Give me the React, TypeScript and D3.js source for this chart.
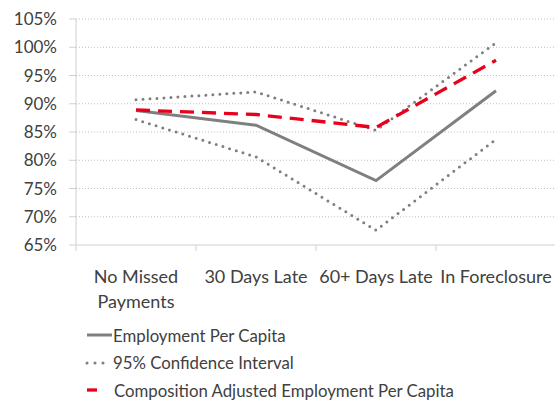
import React from "react";
import * as d3 from "d3";

const categories = ["No Missed Payments", "30 Days Late", "60+ Days Late", "In Foreclosure"];
const categoryLines = [["No Missed", "Payments"], ["30 Days Late"], ["60+ Days Late"], ["In Foreclosure"]];
const employment = [88.8, 86.2, 76.4, 92.3];
const ciUpper = [90.7, 92.1, 85.3, 100.8];
const ciLower = [87.2, 80.6, 67.6, 83.7];
const adjusted = [88.9, 88.1, 85.8, 97.7];
const yTicks = [65, 70, 75, 80, 85, 90, 95, 100, 105];
const legendLabels = ["Employment Per Capita", "95% Confidence Interval", "Composition Adjusted Employment Per Capita"];

const W = 555, H = 400;
const left = 76, right = 556, top = 19, bottom = 245;
const FONT = "Lato, 'Open Sans', sans-serif";

export default function App() {
  const x = d3.scaleBand<string>().domain(categories).range([left, right]).padding(0);
  const y = d3.scaleLinear().domain([65, 105]).range([bottom, top]);
  const cx = (i: number) => (x(categories[i]) as number) + x.bandwidth() / 2;
  const line = d3.line<number>().x((_, i) => cx(i)).y((d) => y(d));

  return (
    <svg width={W} height={H} style={{ position: "absolute", left: 0, top: 0, background: "#fff" }}>
      {yTicks.map((t) => (
        <g key={t}>
          {t !== 65 && (
            <line x1={left} x2={W} y1={y(t)} y2={y(t)} stroke="#bfbfbf" strokeWidth={1} strokeDasharray="1 2" />
          )}
          <line x1={left - 7} x2={left} y1={y(t)} y2={y(t)} stroke="#d0d0d0" />
          <text x={57} y={y(t)} dy="0.36em" textAnchor="end" fontFamily={FONT} fontSize={17} fill="#404040">
            {t}%
          </text>
        </g>
      ))}
      <line x1={left} x2={left} y1={top} y2={bottom} stroke="#d0d0d0" />
      <line x1={left} x2={W} y1={bottom} y2={bottom} stroke="#d0d0d0" />
      {categories.map((c) => (
        <line key={c} x1={x(c) as number} x2={x(c) as number} y1={bottom} y2={bottom + 6} stroke="#d0d0d0" />
      ))}
      {categoryLines.map((lines, i) =>
        lines.map((l, j) => (
          <text key={i + "-" + j} x={cx(i)} y={282.5 + j * 25} textAnchor="middle" fontFamily={FONT} fontSize={18} fill="#404040">
            {l}
          </text>
        ))
      )}
      <path d={line(ciUpper) || ""} fill="none" stroke="#7f7f7f" strokeWidth={3} strokeDasharray="0 7" strokeLinecap="round" />
      <path d={line(ciLower) || ""} fill="none" stroke="#7f7f7f" strokeWidth={3} strokeDasharray="0 7" strokeLinecap="round" />
      <path d={line(employment) || ""} fill="none" stroke="#7f7f7f" strokeWidth={3} />
      <path d={line(adjusted) || ""} fill="none" stroke="#e8001c" strokeWidth={3.3} strokeDasharray="14 8" />

      <g fontFamily={FONT} fontSize={16.8} fill="#404040">
        <line x1={87} x2={112} y1={335} y2={335} stroke="#7f7f7f" strokeWidth={3} />
        <text x={113} y={335.5} dy="0.36em">{legendLabels[0]}</text>
        <line x1={87} x2={105} y1={363} y2={363} stroke="#7f7f7f" strokeWidth={3} strokeDasharray="0 8" strokeLinecap="round" />
        <text x={113} y={363} dy="0.36em">{legendLabels[1]}</text>
        <line x1={87} x2={97} y1={390} y2={390} stroke="#e8001c" strokeWidth={3.3} />
        <text x={114} y={390.5} dy="0.36em">{legendLabels[2]}</text>
      </g>
    </svg>
  );
}
